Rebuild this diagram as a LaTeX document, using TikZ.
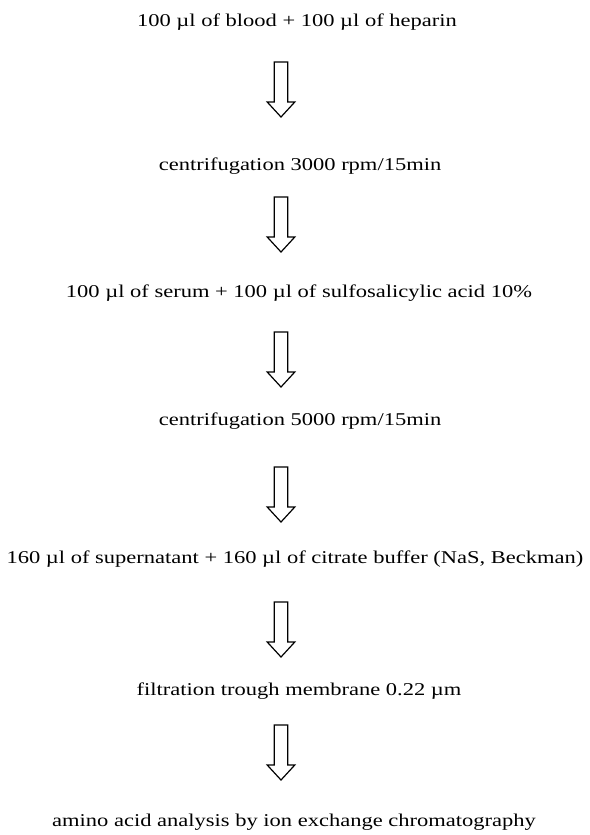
\documentclass[tikz,border=0pt]{standalone}
\usepackage{fontspec}
\setmainfont[FakeStretch=1.25]{Liberation Serif}
\begin{document}
\begin{tikzpicture}[x=1pt,y=-1pt,
  steptext/.style={anchor=base,inner sep=0pt,font=\fontsize{18}{21}\selectfont},
  pics/downarrow/.style={code={
    \draw[line width=1.2pt,line join=miter]
      (-6.8,0) -- (-6.8,40) -- (-13.8,40) -- (0,55) -- (13.8,40) -- (6.8,40) -- (6.8,0) -- cycle;
  }}]
\useasboundingbox (0,0) rectangle (589,835);
\node[steptext] (s1) at (297,27) {100 µl of blood + 100 µl of heparin};
\node[steptext] (s2) at (300,170) {centrifugation 3000 rpm/15min};
\node[steptext] (s3) at (299,297) {100 µl of serum + 100 µl of sulfosalicylic acid 10\%};
\node[steptext] (s4) at (300,425) {centrifugation 5000 rpm/15min};
\node[steptext] (s5) at (295,563) {160 µl of supernatant + 160 µl of citrate buffer (NaS, Beckman)};
\node[steptext] (s6) at (299,695) {filtration trough membrane 0.22 µm};
\node[steptext] (s7) at (294,826) {amino acid analysis by ion exchange chromatography};
\pic (a1) at (281,62) {downarrow};
\pic (a2) at (281,197) {downarrow};
\pic (a3) at (281,332) {downarrow};
\pic (a4) at (281,467) {downarrow};
\pic (a5) at (281,602) {downarrow};
\pic (a6) at (281,725) {downarrow};
\end{tikzpicture}
\end{document}
